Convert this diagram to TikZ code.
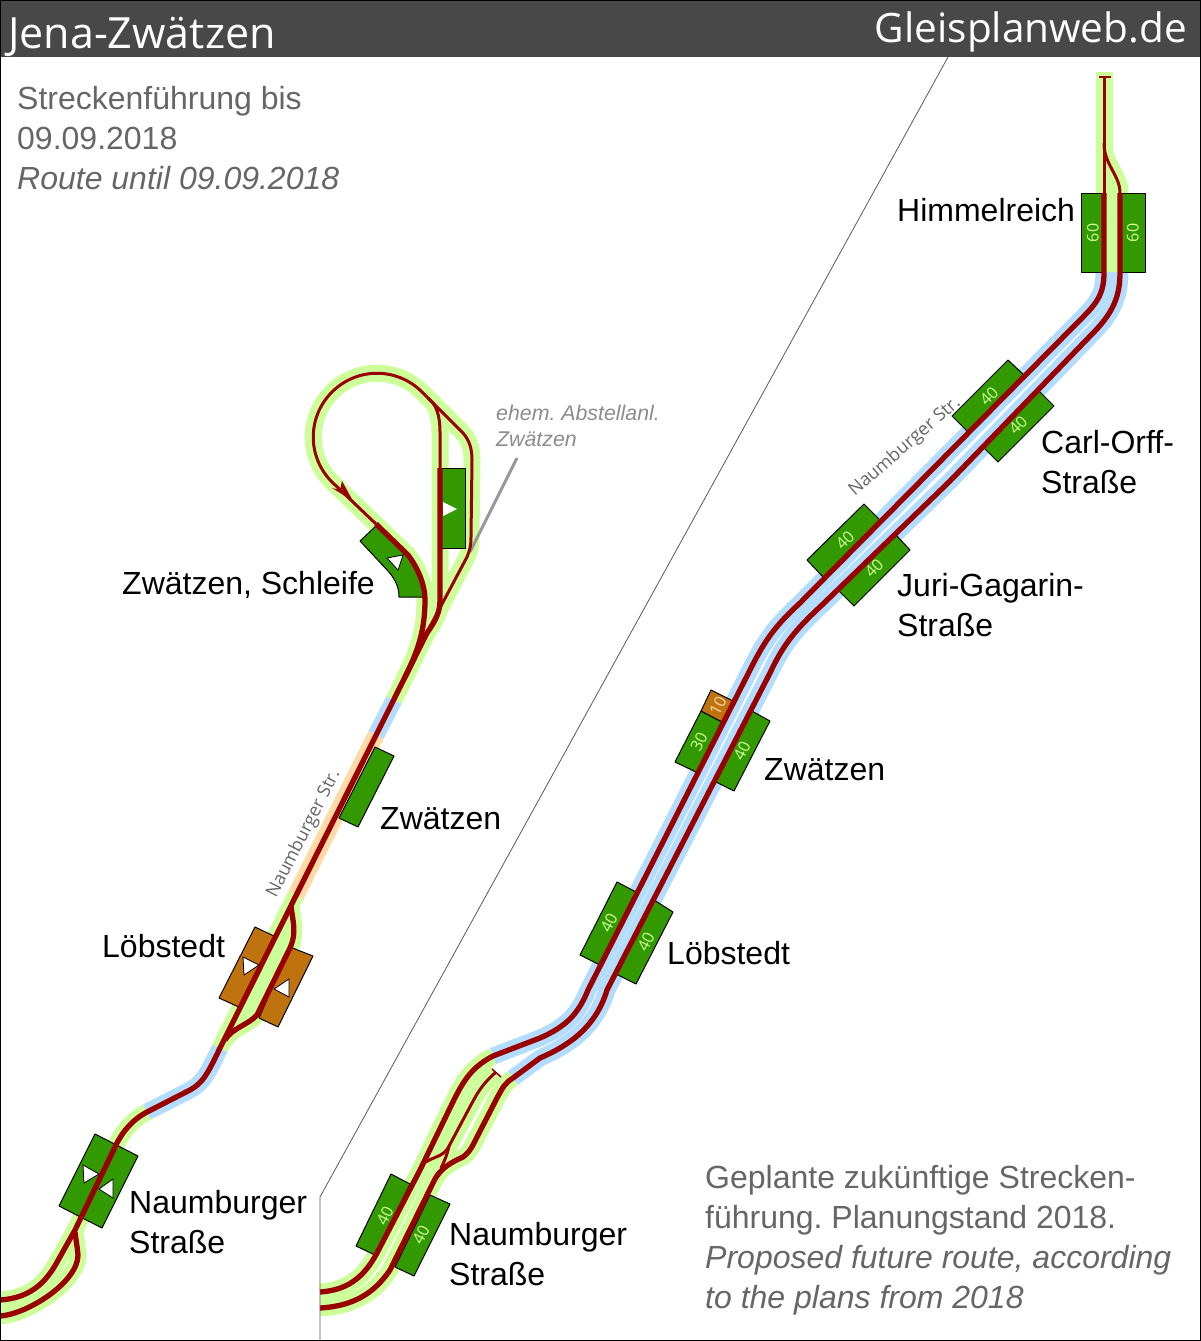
\documentclass[tikz,border=0pt]{standalone}
\usepackage{fontspec}
\setmainfont{Liberation Sans}
\newfontfamily\opensans{Open Sans}
\usetikzlibrary{positioning}
\definecolor{railred}{HTML}{990000}
\definecolor{halogreen}{HTML}{CCFF99}
\definecolor{haloblue}{HTML}{B3DDFF}
\definecolor{haloorange}{HTML}{FFD9A6}
\definecolor{stopgreen}{HTML}{339900}
\definecolor{stopbrown}{HTML}{BF730F}
\definecolor{titlegray}{HTML}{484848}
\definecolor{leadergray}{HTML}{999999}
\tikzset{
  hgreen/.style={draw=halogreen,line width=17pt},
  hblue/.style={draw=haloblue,line width=17pt},
  horange/.style={draw=haloorange,line width=17pt},
  railthick/.style={draw=railred,line width=5.3pt},
  railthin/.style={draw=railred,line width=3pt},
  stopg/.style={draw=black,fill=stopgreen,line width=1pt,line join=round},
  stopb/.style={draw=black,fill=stopbrown,line width=1pt,line join=round},
  dirmark/.style={draw=black,fill=white,line width=0.8pt},
  lbl/.style={anchor=base west,inner sep=0pt,align=left,font=\fontsize{32}{40}\selectfont},
  note/.style={lbl,text=black!60},
  speed/.style={inner sep=0pt,text=halogreen,font=\opensans\fontsize{16}{16}\selectfont},
  street/.style={inner sep=0pt,text=black!60,font=\opensans\fontsize{18}{20}\selectfont}
}
\frenchspacing
\begin{document}
\begin{tikzpicture}[x=1pt,y=-1pt]
\useasboundingbox (0,0) rectangle (1201,1341);

% left picture: halos
\draw[hgreen](0,1300) .. controls (30,1298) and (45,1283) .. (56,1264) -- (75,1230) -- (115,1147) .. controls (122,1132) and (132,1120) .. (147,1112);
\draw[hblue](147,1112) -- (190,1090) .. controls (203,1083) and (208,1073) .. (220,1048);
\draw[hgreen](220,1048) -- (296,895);
\draw[horange](296,895) -- (376,735);
\draw[hblue](376,735) -- (394,700);
\draw[hgreen](394,700) -- (427,633);
\draw[hgreen](0,1316) .. controls (28,1314) and (78,1282) .. (78,1255) .. controls (77,1245) and (76,1240) .. (75,1232);
\draw[hgreen](225,1040) .. controls (232,1028) and (248,1025) .. (257,1015) -- (289,950) .. controls (298,932) and (292,920) .. (291,905);
\fill[halogreen](235,1025) -- (285,930) -- (290,950) -- (255,1018) -- cycle;
\draw[hgreen](405,677) .. controls (418,651) and (425,630) .. (425,600) .. controls (425,585) and (418,568) .. (408,555) -- (332,482) .. controls (307,457) and (307,417) .. (332,392) .. controls (357,367) and (397,367) .. (422,392) -- (433,403) .. controls (438,410) and (440,420) .. (440,432) -- (440,600) .. controls (440,612) and (436,620) .. (427,633);
\draw[hgreen](428,398) -- (463,433) .. controls (470,441) and (472,450) .. (472,460) -- (471,537) .. controls (471,545) and (470,550) .. (467,557) -- (427,633);

% left picture: stops
\draw[leadergray,line width=3pt](517,458) -- (470,552);
\draw[stopg](95,1134) -- (138,1156) -- (102,1228) -- (59,1206) -- cycle;
\draw[stopb](255,927) -- (276,937) -- (241,1008) -- (219,998) -- cycle;
\draw[stopb](290,947) -- (313,956) -- (278,1027) -- (259,1018) -- cycle;
\draw[stopg](375,747) -- (394,756) -- (358,827) -- (339,818) -- cycle;
\draw[stopg](376,526) -- (360,541) -- (388,571) .. controls (396,580) and (399,588) .. (399,597) -- (424,597) .. controls (424,585) and (418,568) .. (408,555) -- cycle;
\draw[stopg](440,468) -- (465,468) -- (465,548) -- (440,548) -- cycle;

% left picture: rails
\draw[railthick](0,1300) .. controls (30,1298) and (45,1283) .. (56,1264) -- (75,1230) -- (115,1147) .. controls (122,1132) and (132,1120) .. (147,1112) -- (190,1090) .. controls (203,1083) and (208,1073) .. (220,1048) -- (427,633);
\draw[railthick](0,1316) .. controls (28,1314) and (78,1282) .. (78,1255) .. controls (77,1245) and (76,1240) .. (75,1232);
\draw[railthick](225,1040) .. controls (232,1028) and (248,1025) .. (257,1015) -- (289,950) .. controls (298,932) and (292,920) .. (291,905);
\draw[railthick](405,677) .. controls (418,651) and (425,630) .. (425,600) .. controls (425,585) and (418,568) .. (408,555) -- (376,524);
\draw[railthin](376,524) -- (332,482) .. controls (307,457) and (307,417) .. (332,392) .. controls (357,367) and (397,367) .. (422,392) -- (433,403) .. controls (438,410) and (440,420) .. (440,432) -- (440,468);
\draw[railthick](440,468) -- (440,600) .. controls (440,612) and (436,620) .. (427,633);
\draw[railthin](428,398) -- (463,433) .. controls (470,441) and (472,450) .. (472,460) -- (471,537) .. controls (471,545) and (470,550) .. (467,557) -- (424,638);
\fill[railred](353,501) -- (342,481) -- (340,490) -- (332,488) -- cycle;

\draw[dirmark](83,1165) -- (99,1174) -- (84,1183) -- cycle;
\draw[dirmark](113,1179) -- (99,1189) -- (113,1198) -- cycle;
\draw[dirmark](243,957) -- (259,965) -- (244,975) -- cycle;
\draw[dirmark](289,979) -- (274,989) -- (289,997) -- cycle;
\draw[dirmark](387,558) -- (403,555) -- (398,570) -- cycle;
\draw[dirmark,draw=none](443,502) -- (457,509) -- (443,516) -- cycle;

% right picture: halos
\draw[hgreen](320,1292) .. controls (350,1290) and (365,1275) .. (377,1253) -- (420,1170) -- (450,1108) .. controls (462,1083) and (470,1068) .. (493,1056);
\draw[hgreen](320,1308) .. controls (355,1306) and (375,1292) .. (390,1270) -- (433,1183) .. controls (438,1172) and (445,1165) .. (463,1157) .. controls (470,1152) and (473,1145) .. (477,1137) -- (497,1098) .. controls (503,1087) and (505,1083) .. (513,1078);
\draw[hgreen](496,1072) .. controls (485,1082) and (480,1088) .. (472,1103) -- (448,1148) .. controls (442,1157) and (435,1156) .. (425,1162);
\draw[hblue](493,1056) -- (540,1038) .. controls (565,1027) and (578,1015) .. (588,990) -- (750,670) .. controls (765,640) and (775,626) .. (800,603) -- (1084,316) .. controls (1100,300) and (1104,290) .. (1104,272);
\draw[hblue](513,1078) -- (540,1058) .. controls (565,1047) and (595,1030) .. (607,990) -- (770,673) .. controls (783,645) and (795,630) .. (822,605) -- (950,481) -- (1095,331) .. controls (1114,311) and (1120,295) .. (1120,272);
\draw[hgreen](1104,272) -- (1104,72);
\draw[hgreen](1120,272) -- (1120,193) .. controls (1120,175) and (1104,165) .. (1104,143);

% right picture: stops
\draw[stopg](391,1174) -- (410,1184) -- (375,1255) -- (356,1246) -- cycle;
\draw[stopg](430,1195) -- (450,1204) -- (414,1276) -- (395,1267) -- cycle;
\draw[stopg](617,882) -- (638,893) -- (602,966) -- (580,955) -- cycle;
\draw[stopg](654,900) -- (673,912) -- (636,984) -- (616,974) -- cycle;
\draw[stopg](701,711) -- (724,723) -- (698,773) -- (675,762) -- cycle;
\draw[stopb](711,690) -- (735,702) -- (724,723) -- (701,711) -- cycle;
\draw[stopg](750,710) -- (770,721) -- (734,791) -- (714,781) -- cycle;
\draw[stopg](864,504) -- (807,560) -- (824,578) -- (881,521) -- cycle;
\draw[stopg](896,535) -- (910,550) -- (854,606) -- (839,591) -- cycle;
\draw[stopg](1008,360) -- (952,416) -- (969,433) -- (1025,376) -- cycle;
\draw[stopg](1038,390) -- (1054,406) -- (998,462) -- (983,447) -- cycle;
\draw[stopg](1081,193) -- (1104,193) -- (1104,272) -- (1081,272) -- cycle;
\draw[stopg](1120,193) -- (1145,193) -- (1145,272) -- (1120,272) -- cycle;

% right picture: rails
\draw[railthick](320,1292) .. controls (350,1290) and (365,1275) .. (377,1253) -- (420,1170) -- (450,1108) .. controls (462,1083) and (470,1068) .. (493,1056) -- (540,1038) .. controls (565,1027) and (578,1015) .. (588,990) -- (750,670) .. controls (765,640) and (775,626) .. (800,603) -- (1084,316) .. controls (1100,300) and (1104,290) .. (1104,272) -- (1104,193);
\draw[railthick](320,1308) .. controls (355,1306) and (375,1292) .. (390,1270) -- (433,1183) .. controls (438,1172) and (445,1165) .. (463,1157) .. controls (470,1152) and (473,1145) .. (477,1137) -- (497,1098) .. controls (503,1087) and (505,1083) .. (513,1078) -- (540,1058) .. controls (565,1047) and (595,1030) .. (607,990) -- (770,673) .. controls (783,645) and (795,630) .. (822,605) -- (950,481) -- (1095,331) .. controls (1114,311) and (1120,295) .. (1120,272) -- (1120,193);
\draw[railthin](1104,193) -- (1104,77);
\draw[railthin](1120,193) .. controls (1120,175) and (1104,165) .. (1104,143);
\draw[railred,line width=2pt](1099,77) -- (1111,77);
\draw[railthin](496,1072) .. controls (485,1082) and (480,1088) .. (472,1103) -- (448,1148) .. controls (442,1157) and (435,1156) .. (424,1163);
\draw[railthin](449,1146) .. controls (447,1155) and (445,1160) .. (441,1168);
\draw[railred,line width=1.5pt](492,1069) -- (501,1077);

% title bar and frame
\fill[titlegray](0,0) rectangle (1201,57);
\draw[black!65,line width=0.8pt](948,57) -- (320,1197) -- (320,1341);
\draw[black,line width=1pt](0.5,0.5) rectangle (1200.5,1340.5);

\node[anchor=base west,inner sep=0pt,text=white,font=\opensans\fontsize{43}{44}\selectfont](titleleft) at (8,48) {Jena-Zwätzen};
\node[anchor=base east,inner sep=0pt,text=white,font=\opensans\fontsize{40.5}{44}\selectfont](titleright) at (1187,42) {Gleisplanweb.de};

\node[note](routeold) at (17,189) {Streckenführung bis\\09.09.2018\\\textit{Route until 09.09.2018}};
\node[note](routenew) at (705,1308) {Geplante zukünftige Strecken-\\führung. Planungstand 2018.\\\textit{Proposed future route, according}\\\textit{to the plans from 2018}};
\node[anchor=base west,inner sep=0pt,align=left,text=black!45,font=\itshape\fontsize{21.33}{26}\selectfont](depot) at (496,446) {ehem. Abstellanl.\\Zwätzen};

\node[lbl](lschleife) at (122,594) {Zwätzen, Schleife};
\node[lbl](lzwaetzen) at (380,829) {Zwätzen};
\node[lbl](lloebstedt) at (102,957) {Löbstedt};
\node[lbl](lnaumburg) at (129,1253) {Naumburger\\Straße};
\node[lbl](rhimmel) at (897,221) {Himmelreich};
\node[lbl](rcarl) at (1041,493) {Carl-Orff-\\Straße};
\node[lbl](rjuri) at (897,636) {Juri-Gagarin-\\Straße};
\node[lbl](rzwaetzen) at (764,780) {Zwätzen};
\node[lbl](rloebstedt) at (667,964) {Löbstedt};
\node[lbl](rnaumburg) at (449,1285) {Naumburger\\Straße};

\node[street,rotate=63](streetleft) at (304,834) {Naumburger Str.};
\node[street,rotate=41](streetright) at (905,447) {Naumburger Str.};

\node[speed,rotate=90](s1) at (1093,233) {60};
\node[speed,rotate=90](s2) at (1133,233) {60};
\node[speed,rotate=45](s3) at (989,396) {40};
\node[speed,rotate=45](s4) at (1018,425) {40};
\node[speed,rotate=45](s5) at (845,540) {40};
\node[speed,rotate=45](s6) at (874,568) {40};
\node[speed,rotate=63,text=haloorange](s7) at (718,706) {10};
\node[speed,rotate=63](s8) at (699,742) {30};
\node[speed,rotate=63](s9) at (742,751) {40};
\node[speed,rotate=63](s10) at (609,923) {40};
\node[speed,rotate=63](s11) at (646,942) {40};
\node[speed,rotate=63](s12) at (385,1216) {40};
\node[speed,rotate=63](s13) at (421,1235) {40};
\end{tikzpicture}
\end{document}
